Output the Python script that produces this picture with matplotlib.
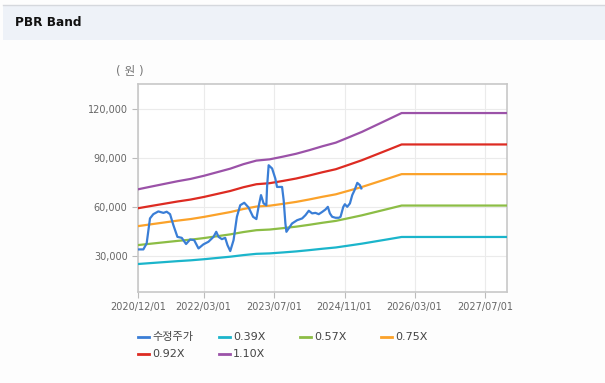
import pandas as pd
import matplotlib.pyplot as plt
import matplotlib.dates as mdates
from matplotlib.ticker import FuncFormatter
from matplotlib.patches import Rectangle


# Data: adjusted price (수정주가)
price_dates = [
    "2020-12-03", "2021-01-07", "2021-01-30", "2021-02-22", "2021-03-17", "2021-04-21",
    "2021-05-26", "2021-06-18", "2021-07-11", "2021-08-03", "2021-08-31", "2021-09-30",
    "2021-10-30", "2021-11-27", "2021-12-25", "2022-01-24", "2022-02-27", "2022-04-03",
    "2022-05-08", "2022-05-27", "2022-06-12", "2022-07-05", "2022-07-28", "2022-08-13",
    "2022-09-01", "2022-09-24", "2022-10-17", "2022-11-09", "2022-12-07", "2023-01-06",
    "2023-02-06", "2023-03-01", "2023-03-16", "2023-04-02", "2023-04-20", "2023-05-09",
    "2023-05-14", "2023-05-25", "2023-06-18", "2023-07-10", "2023-07-22", "2023-08-26",
    "2023-09-06", "2023-09-18", "2023-09-25", "2023-10-11", "2023-11-03", "2023-12-08",
    "2024-01-12", "2024-02-04", "2024-02-27", "2024-03-21", "2024-04-13", "2024-05-06",
    "2024-05-30", "2024-06-22", "2024-07-08", "2024-07-22", "2024-08-07", "2024-08-30",
    "2024-09-22", "2024-10-04", "2024-10-23", "2024-11-03", "2024-11-19", "2024-12-08",
    "2024-12-24", "2025-01-09", "2025-01-28", "2025-02-15", "2025-02-25",
]
price_values = [
    34100, 34100, 37800, 53100, 55700, 57400,
    56500, 57200, 55700, 49000, 41800, 41200,
    37400, 40200, 39800, 34700, 37200, 38800,
    41800, 44900, 41800, 40400, 41200, 36700,
    33100, 39800, 54100, 61200, 62700, 59800,
    54100, 52700, 60200, 67400, 62300, 61200,
    72400, 85700, 83700, 77600, 72400, 72400,
    64300, 50000, 44900, 47000, 50000, 52000,
    53100, 55100, 57800, 56200, 56500, 55700,
    57100, 58600, 60200, 56200, 54100, 53500,
    53500, 54100, 60200, 61800, 60200, 62300,
    67400, 70400, 74900, 73500, 71500,
]

# Data: BPS used for the PBR bands
bps_dates = [
    "2020-12-01", "2021-03-01", "2021-06-01", "2021-09-01", "2021-12-01", "2022-03-01",
    "2022-06-01", "2022-09-01", "2022-12-01", "2023-03-01", "2023-06-01", "2023-09-01",
    "2023-12-01", "2024-03-01", "2024-06-01", "2024-09-01", "2024-12-01", "2025-03-01",
    "2025-06-01", "2025-09-01", "2025-12-01", "2027-12-01",
]
bps_values = [
    64500, 66000, 67500, 69000, 70300, 72000,
    74000, 76000, 78500, 80500, 81200, 82700,
    84300, 86300, 88500, 90500, 93500, 96500,
    100000, 103500, 107000, 107000,
]

band_multiples = [0.39, 0.57, 0.75, 0.92, 1.10]
band_labels = ["0.39X", "0.57X", "0.75X", "0.92X", "1.10X"]
band_colors = ["#1bb5cb", "#8cbd45", "#fba22a", "#dd2b22", "#9b52a8"]
price_color = "#3a7ed6"

x_ticks = ["2020-12-01", "2022-03-01", "2023-07-01", "2024-11-01", "2026-03-01", "2027-07-01"]
y_ticks = [30000, 60000, 90000, 120000]

price = pd.Series(price_values, index=pd.to_datetime(price_dates))
bps = pd.Series(bps_values, index=pd.to_datetime(bps_dates))


# Figure
plt.rcParams["font.family"] = ["DejaVu Sans", "Noto Sans CJK KR"]
W, H = 605, 383
fig = plt.figure(figsize=(W / 100, H / 100), dpi=100)
fig.patch.set_facecolor("#fdfdfd")

# Header band
fig.patches.append(Rectangle((3 / W, 1 - 40 / H), 1, 35 / H, transform=fig.transFigure,
                             facecolor="#eef2f8", edgecolor="none", zorder=0))
fig.lines.append(plt.Line2D([3 / W, 1], [1 - 5 / H, 1 - 5 / H], transform=fig.transFigure,
                            color="#d5d8dd", lw=1))
fig.text(15 / W, 1 - 23 / H, "PBR Band", fontsize=8.7, fontweight="bold", color="#111111",
         va="center", ha="left")

ax = fig.add_axes([138 / W, 1 - 292 / H, 369 / W, 208 / H])
ax.set_facecolor("white")

ax.plot(price.index, price.values, color=price_color, lw=1.6, label="수정주가", zorder=5)
for mult, label, color in zip(band_multiples, band_labels, band_colors):
    ax.plot(bps.index, bps.values * mult, color=color, lw=1.6, label=label, zorder=4)

ax.set_xlim(pd.Timestamp("2020-12-01"), pd.Timestamp("2027-12-01"))
ax.set_ylim(8000, 135500)
ax.set_xticks(pd.to_datetime(x_ticks))
ax.xaxis.set_major_formatter(mdates.DateFormatter("%Y/%m/%d"))
ax.set_yticks(y_ticks)
ax.yaxis.set_major_formatter(FuncFormatter(lambda v, p: f"{int(v):,}"))
ax.tick_params(axis="both", labelsize=7, colors="#bbbbbb", labelcolor="#666666", length=4, width=0.8)
ax.grid(True, color="#ebebeb", lw=0.8)
ax.set_axisbelow(True)
for side in ax.spines.values():
    side.set_color("#c8c8c8")
    side.set_linewidth(1.2)

fig.text(130 / W, 1 - 72 / H, "( 원 )", fontsize=8.5, color="#777777", ha="center", va="center")

# Legend, filled row by row: 4 per row
handles, labels = ax.get_legend_handles_labels()
for i, (h, lab) in enumerate(zip(handles, labels)):
    x0 = 138 + (i % 4) * 81
    y0 = 337 + (i // 4) * 17
    fig.lines.append(plt.Line2D([x0 / W, (x0 + 11) / W], [1 - y0 / H, 1 - y0 / H],
                                transform=fig.transFigure, color=h.get_color(), lw=2))
    fig.text((x0 + 14) / W, 1 - y0 / H, lab, fontsize=8, color="#444444",
             ha="left", va="center")

fig.savefig("out.png", dpi=100, facecolor=fig.get_facecolor())
